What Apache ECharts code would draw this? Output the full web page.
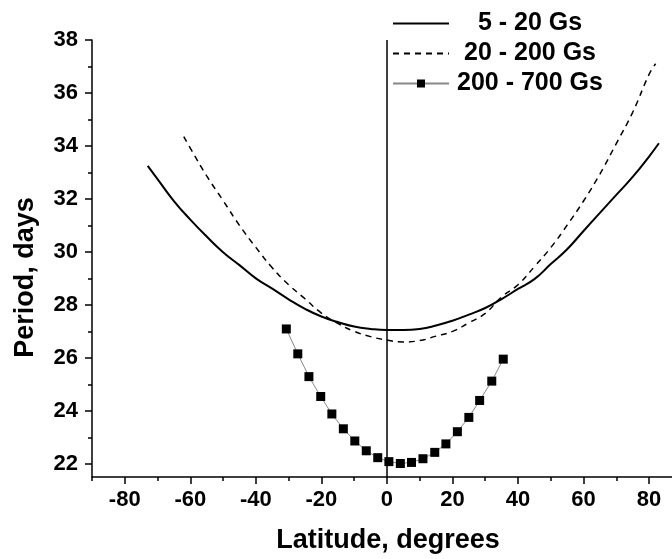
<!DOCTYPE html>
<html>
<head>
<meta charset="utf-8">
<script src="https://cdn.jsdelivr.net/npm/echarts@6/dist/echarts.min.js"></script>
<style>
  html, body { margin: 0; padding: 0; background: #fff; }
  #chart { width: 672px; height: 559px; }
</style>
</head>
<body>
<div id="chart"></div>
<script>
// 5 - 20 Gs (solid curve)
const lowLat = [-73, -70, -65, -60, -55, -50, -45, -40, -35, -30, -25, -20, -15, -10, -5, 0, 5, 10, 15, 20, 25, 30, 35, 40, 45, 50, 55, 60, 65, 70, 75, 80, 83];
const lowPeriod = [33.25, 32.75, 31.92, 31.22, 30.58, 29.99, 29.5, 29.0, 28.61, 28.21, 27.85, 27.56, 27.35, 27.18, 27.09, 27.05, 27.05, 27.09, 27.22, 27.4, 27.63, 27.88, 28.22, 28.6, 28.97, 29.54, 30.1, 30.79, 31.47, 32.15, 32.83, 33.6, 34.1];

// 20 - 200 Gs (dashed curve)
const midLat = [-62, -60, -55, -50, -45, -40, -35, -30, -25, -20, -15, -10, -5, 0, 5, 10, 15, 20, 25, 30, 35, 40, 45, 50, 55, 60, 65, 70, 75, 80, 82];
const midPeriod = [34.35, 33.92, 32.87, 31.94, 31.0, 30.17, 29.4, 28.76, 28.23, 27.69, 27.3, 27.0, 26.8, 26.67, 26.6, 26.65, 26.82, 27.0, 27.32, 27.68, 28.3, 28.76, 29.44, 30.16, 31.01, 31.92, 32.94, 34.09, 35.27, 36.7, 37.1];

// 200 - 700 Gs (squares)
const highLat = [-30.7, -27.2, -23.8, -20.2, -16.8, -13.3, -9.8, -6.3, -2.8, 0.6, 4.1, 7.5, 11.0, 14.6, 18.0, 21.5, 25.0, 28.3, 32.0, 35.5];
const highPeriod = [27.09, 26.15, 25.29, 24.54, 23.88, 23.32, 22.86, 22.49, 22.23, 22.08, 22.01, 22.05, 22.19, 22.43, 22.75, 23.21, 23.75, 24.39, 25.12, 25.95];

const xMajorTicks = [-80, -60, -40, -20, 0, 20, 40, 60, 80];
const xMinorTicks = [-90, -70, -50, -30, -10, 10, 30, 50, 70];
const yMajorTicks = [22, 24, 26, 28, 30, 32, 34, 36, 38];
const yMinorTicks = [23, 25, 27, 29, 31, 33, 35, 37];

const zip = (xs, ys) => xs.map((x, i) => [x, ys[i]]);

const font = 'Liberation Sans, Arial, sans-serif';
const labelStyle = { fontFamily: font, fontWeight: 'bold', fontSize: 22, color: '#000' };

const chart = echarts.init(document.getElementById('chart'), null, { renderer: 'canvas' });

const baseX = {
  type: 'value',
  min: -90,
  max: 87,
  position: 'bottom',
  splitLine: { show: false },
};
const baseY = {
  type: 'value',
  min: 21.5,
  max: 38,
  position: 'left',
  splitLine: { show: false },
};
const hiddenIcon = { opacity: 0 };

chart.setOption({
  animation: false,
  backgroundColor: '#fff',
  grid: { left: 92, right: 0, top: 40, bottom: 82, outerBoundsMode: 'none' },
  legend: {
    orient: 'vertical',
    left: 387,
    top: 6,
    itemWidth: 56,
    itemHeight: 10,
    itemGap: 5,
    selectedMode: false,
    data: [
      { name: '5 - 20 Gs', itemStyle: hiddenIcon },
      { name: '20 - 200 Gs', itemStyle: hiddenIcon },
      { name: '200 - 700 Gs' },
    ],
    formatter: (name) => `{a|${name}}`,
    textStyle: {
      rich: {
        a: { width: 152, align: 'center', fontFamily: font, fontWeight: 'bold', fontSize: 25, lineHeight: 22, color: '#000' },
      },
    },
  },
  xAxis: [
    {
      ...baseX,
      name: 'Latitude, degrees',
      nameLocation: 'middle',
      nameGap: 50,
      nameTextStyle: { fontFamily: font, fontWeight: 'bold', fontSize: 27, color: '#000', padding: [0, 0, 0, 12] },
      axisLine: { onZero: false, lineStyle: { color: '#000', width: 1.5 } },
      axisTick: { length: 7, lineStyle: { color: '#000', width: 1.5 }, customValues: xMajorTicks },
      axisLabel: { ...labelStyle, margin: 12, customValues: xMajorTicks },
    },
    {
      ...baseX,
      axisLine: { show: false, onZero: false },
      axisTick: { length: 4, lineStyle: { color: '#000', width: 1.5 }, customValues: xMinorTicks },
      axisLabel: { show: false },
    },
  ],
  yAxis: [
    {
      ...baseY,
      name: 'Period, days',
      nameLocation: 'middle',
      nameGap: 53,
      nameTextStyle: { fontFamily: font, fontWeight: 'bold', fontSize: 27, color: '#000', padding: [0, 38, 0, 0] },
      axisLine: { show: true, onZero: false, lineStyle: { color: '#000', width: 1.5 } },
      axisTick: { show: true, length: 7, lineStyle: { color: '#000', width: 1.5 }, customValues: yMajorTicks },
      axisLabel: { ...labelStyle, margin: 14, customValues: yMajorTicks },
    },
    {
      ...baseY,
      axisLine: { show: false, onZero: false },
      axisTick: { show: true, length: 4, lineStyle: { color: '#000', width: 1.5 }, customValues: yMinorTicks },
      axisLabel: { show: false },
    },
  ],
  series: [
    {
      name: '5 - 20 Gs',
      type: 'line',
      data: zip(lowLat, lowPeriod),
      smooth: true,
      showSymbol: false,
      symbol: 'none',
      color: '#000',
      lineStyle: { color: '#000', width: 2 },
      markLine: {
        silent: true,
        symbol: 'none',
        label: { show: false },
        lineStyle: { color: '#000', width: 1.5, type: 'solid' },
        data: [{ xAxis: 0 }],
      },
    },
    {
      name: '20 - 200 Gs',
      type: 'line',
      data: zip(midLat, midPeriod),
      smooth: true,
      showSymbol: false,
      symbol: 'none',
      color: '#000',
      lineStyle: { color: '#000', width: 1.5, type: [6, 5] },
    },
    {
      name: '200 - 700 Gs',
      type: 'line',
      data: zip(highLat, highPeriod),
      symbol: 'rect',
      symbolSize: 9,
      itemStyle: { color: '#000' },
      lineStyle: { color: '#888', width: 1 },
    },
  ],
});
</script>
</body>
</html>
